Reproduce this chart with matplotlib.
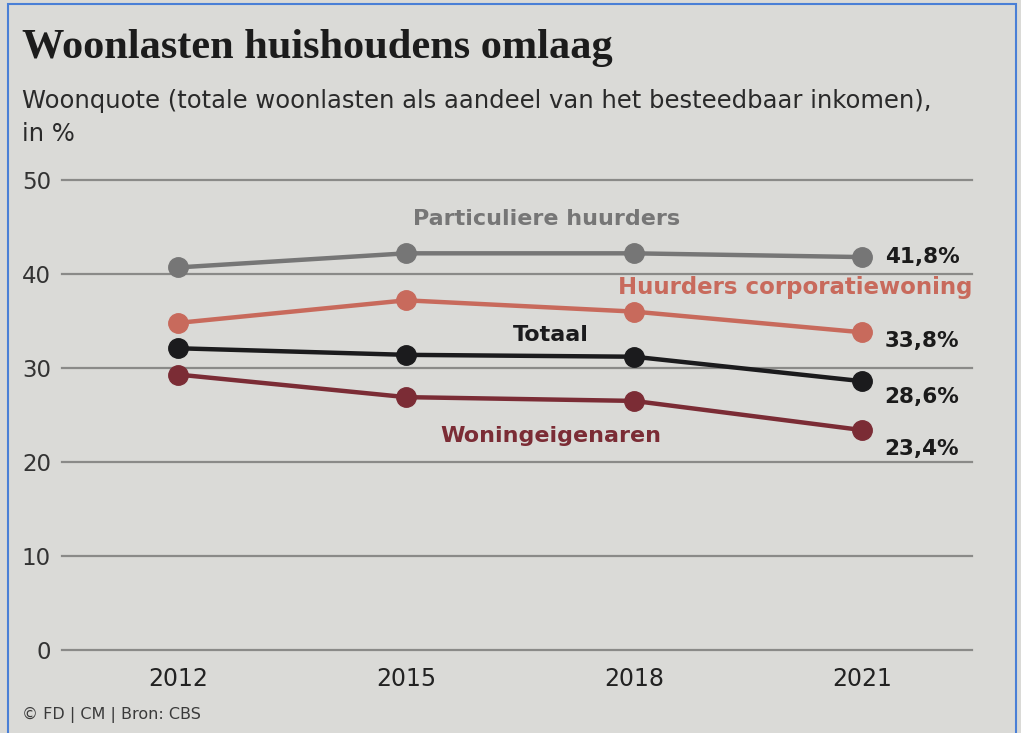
import matplotlib

matplotlib.use("Agg")
import matplotlib.pyplot as plt
from matplotlib.patches import Rectangle

# Woonquote per huishoudtype, CBS
years = [2012, 2015, 2018, 2021]
particulier = [40.7, 42.2, 42.2, 41.8]
corporatie = [34.8, 37.2, 36.0, 33.8]
totaal = [32.1, 31.4, 31.2, 28.6]
eigenaren = [29.3, 26.9, 26.5, 23.4]

yticks = [0, 10, 20, 30, 40, 50]

PAPER = "#dadad7"
GRID = "#8a8a88"
C_PART = "#767676"
C_CORP = "#c86a5c"
C_TOT = "#1b1b1d"
C_EIG = "#7b2c35"

W, H = 1021, 733
fig = plt.figure(figsize=(W / 100, H / 100), dpi=100, facecolor=PAPER)

# plot area in pixels: x 62..972, y(50)=180, y(0)=650
ax = fig.add_axes([62 / W, (H - 650) / H, (972 - 62) / W, (650 - 180) / H])
ax.set_facecolor("none")
ax.set_ylim(0, 50)
ax.set_xlim(2010.47, 2022.45)
for s in ax.spines.values():
    s.set_visible(False)

for t in yticks:
    ax.axhline(t, color=GRID, lw=1.6, zorder=1, clip_on=False)
ax.set_yticks(yticks)
ax.set_yticklabels([str(t) for t in yticks], fontsize=16.5, color="#333333")
ax.tick_params(axis="y", length=0, pad=8)
ax.set_xticks(years)
ax.set_xticklabels([str(y) for y in years], fontsize=17, color="#222222")
ax.tick_params(axis="x", length=0, pad=12)

series = [
    (particulier, C_PART),
    (corporatie, C_CORP),
    (totaal, C_TOT),
    (eigenaren, C_EIG),
]
for vals, col in series:
    ax.plot(years, vals, color=col, lw=3.2, marker="o", ms=14,
            markerfacecolor=col, markeredgecolor=col, zorder=3, clip_on=False)

# end values
for vals, dy in [(particulier, 0.0), (corporatie, -0.9), (totaal, -1.7), (eigenaren, -2.0)]:
    ax.text(2021.3, vals[-1] + dy, f"{vals[-1]:.1f}%".replace(".", ","),
            fontsize=15.5, fontweight="bold", color="#1b1b1b",
            ha="left", va="center", zorder=4)

# series labels
ax.text(2016.85, 45.9, "Particuliere huurders", fontsize=16, fontweight="bold",
        color=C_PART, ha="center", va="center")
ax.text(2022.45, 38.6, "Huurders corporatiewoning", fontsize=16.5, fontweight="bold",
        color=C_CORP, ha="right", va="center")
ax.text(2016.9, 33.5, "Totaal", fontsize=16, fontweight="bold",
        color=C_TOT, ha="center", va="center")
ax.text(2016.9, 22.8, "Woningeigenaren", fontsize=16, fontweight="bold",
        color=C_EIG, ha="center", va="center")

# header
fig.text(22 / W, 1 - 48 / H, "Woonlasten huishoudens omlaag",
         fontsize=30.5, fontweight="bold", family="Liberation Serif",
         color="#1c1c1c", ha="left", va="center")
fig.text(22 / W, 1 - 101 / H,
         "Woonquote (totale woonlasten als aandeel van het besteedbaar inkomen),",
         fontsize=17.5, color="#2a2a2a", ha="left", va="center")
fig.text(22 / W, 1 - 134 / H, "in %", fontsize=17.5, color="#2a2a2a",
         ha="left", va="center")

fig.text(22 / W, 1 - 715 / H, "© FD | CM | Bron: CBS", fontsize=11.5,
         color="#3a3a3a", ha="left", va="center")

# screenshot frame
fig.patches.append(Rectangle((8 / W, -0.01), (1016 - 8) / W, 1 - 4 / H + 0.01,
                             transform=fig.transFigure, fill=False,
                             edgecolor="#4a7fd6", lw=1.5))

fig.savefig("out.png", dpi=100, facecolor=PAPER)
